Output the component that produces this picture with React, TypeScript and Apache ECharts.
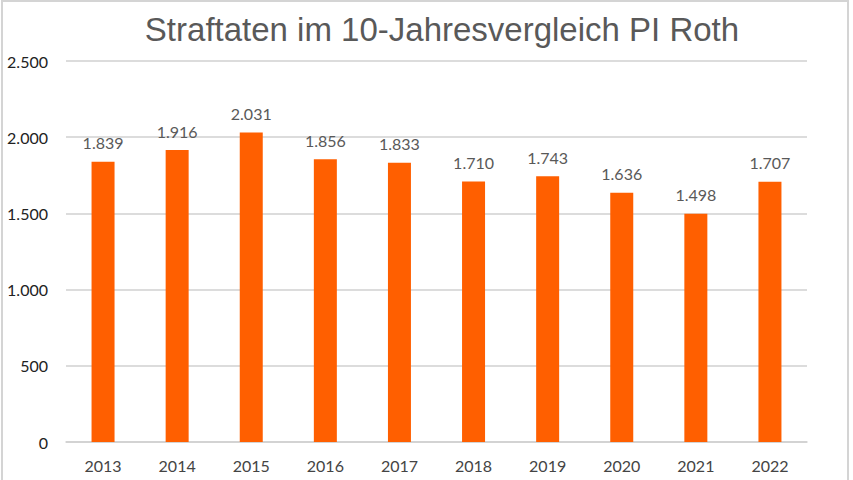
import { useEffect, useRef } from "react";
import * as echarts from "echarts";

const years = ["2013", "2014", "2015", "2016", "2017", "2018", "2019", "2020", "2021", "2022"];
const offences = [1839, 1916, 2031, 1856, 1833, 1710, 1743, 1636, 1498, 1707];

const fmt = (v: number) => String(v).replace(/\B(?=(\d{3})+(?!\d))/g, ".");

export default function App() {
  const ref = useRef<HTMLDivElement | null>(null);

  useEffect(() => {
    if (!ref.current) return;
    const chart = echarts.init(ref.current, null, { renderer: "svg" });
    chart.setOption({
      animation: false,
      backgroundColor: "#ffffff",
      title: {
        text: "Straftaten im 10-Jahresvergleich PI Roth",
        left: 437,
        top: 8,
        textAlign: "center",
        textStyle: {
          fontFamily: "Liberation Sans",
          fontSize: 33,
          fontWeight: "normal",
          color: "#595959",
        },
      },
      graphic: [
        {
          type: "rect",
          shape: { x: 2, y: 1, width: 846, height: 490 },
          style: { fill: "none", stroke: "#d4d4d4", lineWidth: 2 },
          silent: true,
        },
      ],
      grid: { left: 66, right: 46, top: 61, bottom: 38 },
      xAxis: {
        type: "category",
        data: years,
        axisTick: { show: false },
        axisLine: { lineStyle: { color: "#d0d0d0", width: 1.5 } },
        axisLabel: {
          fontFamily: "Lato",
          fontSize: 16,
          color: "#444444",
          margin: 15,
        },
      },
      yAxis: {
        type: "value",
        min: 0,
        max: 2500,
        interval: 500,
        axisLine: { show: false },
        axisTick: { show: false },
        splitLine: { lineStyle: { color: "#d0d0d0", width: 1.5 } },
        axisLabel: {
          fontFamily: "Lato",
          fontSize: 16,
          color: "#222222",
          margin: 18,
          formatter: (v: number) => fmt(v),
        },
      },
      series: [
        {
          type: "bar",
          data: offences,
          barWidth: 23,
          itemStyle: { color: "#ff5f00" },
          label: {
            show: true,
            position: "top",
            distance: 11,
            fontFamily: "Lato",
            fontSize: 16,
            color: "#595959",
            formatter: (p: { value: number }) => fmt(p.value),
          },
        },
      ],
    });
    return () => chart.dispose();
  }, []);

  return (
    <div
      ref={ref}
      style={{ position: "fixed", left: 0, top: 0, width: 853, height: 480 }}
    />
  );
}
